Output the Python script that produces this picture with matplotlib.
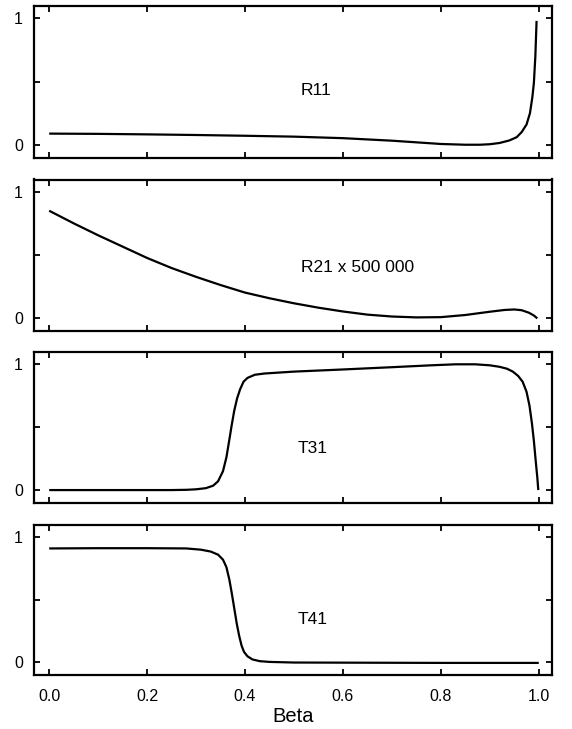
import matplotlib
matplotlib.use("Agg")
import matplotlib.pyplot as plt

plt.rcParams['font.family'] = ['Liberation Sans', 'DejaVu Sans']

# R11
r11_beta = [0.0, 0.1, 0.2, 0.3, 0.4, 0.5, 0.6, 0.7, 0.8, 0.85, 0.88, 0.9, 0.92, 0.94, 0.955,
            0.965, 0.975, 0.982, 0.987, 0.99, 0.993, 0.9955]
r11_val = [0.088, 0.086, 0.082, 0.077, 0.071, 0.064, 0.052, 0.032, 0.006, 0.0, 0.0, 0.004,
           0.014, 0.034, 0.06, 0.1, 0.16, 0.25, 0.38, 0.49, 0.7, 0.98]

# R21 x 500 000
r21_beta = [0.0, 0.05, 0.1, 0.15, 0.2, 0.25, 0.3, 0.35, 0.4, 0.45, 0.5, 0.55, 0.6, 0.65, 0.7,
            0.75, 0.8, 0.85, 0.9, 0.93, 0.95, 0.965, 0.98, 0.99, 0.997]
r21_val = [0.85, 0.75, 0.655, 0.565, 0.475, 0.395, 0.325, 0.26, 0.2, 0.155, 0.115, 0.08, 0.05,
           0.025, 0.01, 0.003, 0.005, 0.022, 0.048, 0.062, 0.066, 0.06, 0.04, 0.018, -0.005]

# T31
t31_beta = [0.0, 0.1, 0.2, 0.25, 0.28, 0.3, 0.32, 0.335, 0.345, 0.355, 0.362, 0.368, 0.373,
            0.378, 0.384, 0.39, 0.397, 0.405, 0.42, 0.44, 0.5, 0.6, 0.7, 0.78, 0.83, 0.87, 0.9,
            0.92, 0.935, 0.947, 0.958, 0.967, 0.975, 0.981, 0.986, 0.99, 0.994, 0.997, 0.999]
t31_val = [0.0, 0.0, 0.0, 0.0, 0.002, 0.006, 0.015, 0.035, 0.07, 0.15, 0.26, 0.4, 0.52, 0.63,
           0.73, 0.8, 0.86, 0.89, 0.915, 0.925, 0.94, 0.957, 0.975, 0.99, 0.998, 0.998, 0.99,
           0.978, 0.963, 0.94, 0.905, 0.86, 0.78, 0.67, 0.53, 0.39, 0.22, 0.1, 0.0]

# T41
t41_beta = [0.0, 0.1, 0.2, 0.28, 0.31, 0.33, 0.345, 0.355, 0.362, 0.368, 0.373, 0.378, 0.383,
            0.388, 0.393, 0.398, 0.405, 0.415, 0.43, 0.45, 0.5, 0.6, 0.7, 0.8, 0.9, 1.0]
t41_val = [0.91, 0.912, 0.912, 0.91, 0.9, 0.885, 0.86, 0.82, 0.76, 0.66, 0.55, 0.43, 0.31,
           0.21, 0.13, 0.08, 0.045, 0.02, 0.006, 0.0, -0.005, -0.006, -0.007, -0.008, -0.008, -0.008]

labels = ["R11", "R21 x 500 000", "T31", "T41"]
label_x = [0.545, 0.63, 0.538, 0.538]
label_y = [0.43, 0.40, 0.33, 0.34]

series = [(r11_beta, r11_val), (r21_beta, r21_val), (t31_beta, t31_val), (t41_beta, t41_val)]

x_ticks = [0.0, 0.2, 0.4, 0.6, 0.8, 1.0]
y_ticks = [0.0, 0.5, 1.0]

fig = plt.figure(figsize=(5.72, 7.29), dpi=100)
W, H = 572.0, 729.0
left_px, right_px = 34, 552
panels_px = [(6, 158), (179.5, 331), (351.7, 503.3), (525, 675)]

for i, ((top, bot), (bx, by)) in enumerate(zip(panels_px, series)):
    ax = fig.add_axes([left_px / W, 1 - bot / H, (right_px - left_px) / W, (bot - top) / H])
    ax.plot(bx, by, color='black', lw=1.6, solid_capstyle='butt')
    ax.set_xlim(-0.031, 1.027)
    ax.set_ylim(-0.105, 1.098)
    ax.set_xticks(x_ticks)
    ax.set_yticks(y_ticks)
    ax.set_yticklabels(["0", "", "1"])
    if i == 3:
        ax.set_xticklabels(["0.0", "0.2", "0.4", "0.6", "0.8", "1.0"])
        ax.set_xlabel("Beta", fontsize=14.5, labelpad=2)
    else:
        ax.set_xticklabels([])
    ax.tick_params(direction='in', top=True, right=True, length=4, width=1.3,
                   labelsize=11.5, color='black')
    ax.tick_params(axis='y', pad=8)
    ax.tick_params(axis='x', pad=10)
    for sp in ax.spines.values():
        sp.set_linewidth(1.6)
    ax.text(label_x[i], label_y[i], labels[i], fontsize=12.5, ha='center', va='center')

fig.savefig("out.png", dpi=100)
